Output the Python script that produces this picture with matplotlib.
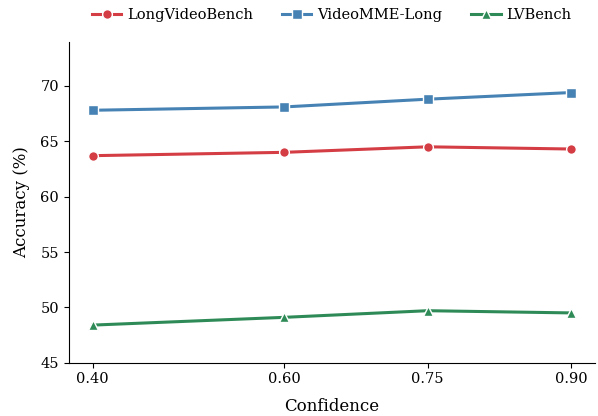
import matplotlib
matplotlib.use("Agg")
import matplotlib.pyplot as plt

plt.rcParams['font.family'] = 'DejaVu Serif'

confidence = [0.40, 0.60, 0.75, 0.90]
x_tick_labels = ["0.40", "0.60", "0.75", "0.90"]
longvideobench = [63.7, 64.0, 64.5, 64.3]
videomme_long = [67.8, 68.1, 68.8, 69.4]
lvbench = [48.4, 49.1, 49.7, 49.5]

series = [
    ("LongVideoBench", longvideobench, 'o', '#d43d44'),
    ("VideoMME-Long", videomme_long, 's', '#4682b4'),
    ("LVBench", lvbench, '^', '#2e8b57'),
]


def do_plot():
    f, ax = plt.subplots(figsize=(5.98, 4.16), dpi=100)
    for name, vals, marker, color in series:
        ax.plot(confidence, vals, marker=marker, color=color, lw=2.2, markersize=7,
                mec='white', mew=1.0, label=name)
    ax.set_xlim(0.375, 0.925)
    ax.set_ylim(45, 74)
    ax.set_xticks(confidence)
    ax.set_xticklabels(x_tick_labels)
    ax.set_yticks([45, 50, 55, 60, 65, 70])
    ax.tick_params(labelsize=10.5)
    ax.set_xlabel("Confidence", fontsize=12, labelpad=8)
    ax.set_ylabel("Accuracy (%)", fontsize=12, labelpad=7)
    ax.spines['top'].set_visible(False)
    ax.spines['right'].set_visible(False)
    ax.legend(loc='lower center', bbox_to_anchor=(0.5, 1.0), ncol=3, frameon=False,
              fontsize=10.5, handlelength=2.0, handletextpad=0.4, columnspacing=2.0,
              borderaxespad=0.95)
    f.subplots_adjust(left=0.115, right=0.995, top=0.9, bottom=0.128)
    plt.savefig('out.png', dpi=100)


if __name__ == '__main__':
    do_plot()
